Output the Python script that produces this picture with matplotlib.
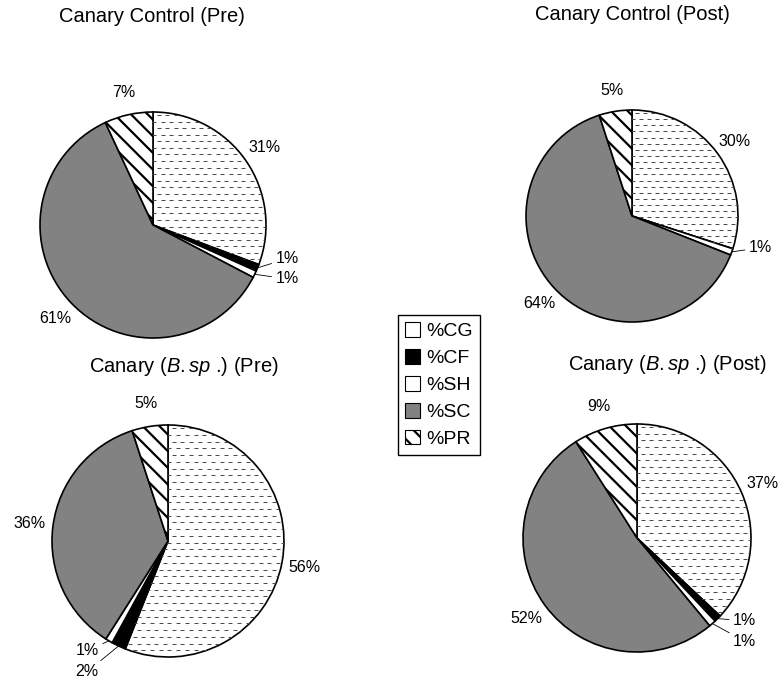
import numpy as np
import matplotlib
matplotlib.use('Agg')
import matplotlib.pyplot as plt
from matplotlib.patches import Patch

plt.rcParams['font.family'] = ['Liberation Sans', 'DejaVu Sans']
plt.rcParams['mathtext.fontset'] = 'custom'
plt.rcParams['mathtext.rm'] = 'Liberation Sans'
plt.rcParams['mathtext.it'] = 'Liberation Sans:italic'
plt.rcParams['hatch.linewidth'] = 1.6

# data: share of each component (%), clockwise from 12 o'clock
components = ['%CG', '%CF', '%SH', '%SC', '%PR']
ctrl_pre = [31, 1, 1, 61, 7]
ctrl_post = [30, 0, 1, 64, 5]
bsp_pre = [56, 2, 1, 36, 5]
bsp_post = [37, 1, 1, 52, 9]
titles = ['Canary Control (Pre)', 'Canary Control (Post)',
          r'Canary ($\mathit{B{.}sp}$ .) (Pre)', r'Canary ($\mathit{B{.}sp}$ .) (Post)']

# styles
fills = ['white', 'black', 'white', '#828282', 'white']
hatches = [None, None, None, None, '\\\\']

W, H = 778, 684
fig = plt.figure(figsize=(W / 100, H / 100), dpi=100)


def draw_pie(vals, title, cx, cy, r, tx, ty):
    ax = fig.add_axes([(cx - r) / W, 1 - (cy + r) / H, 2 * r / W, 2 * r / H])
    wedges, _ = ax.pie(vals, colors=fills, startangle=90, counterclock=False,
                       wedgeprops=dict(edgecolor='black', linewidth=1.2))
    for w, h in zip(wedges, hatches):
        if h:
            w.set_hatch(h)

    # dashed texture for the CG slice
    gx, gy = np.meshgrid(np.arange(-1, 1.05, 0.075), np.arange(-1, 1.05, 0.058))
    gx = gx + (np.arange(gy.shape[0])[:, None] % 2) * 0.0375
    dash, = ax.plot(gx.ravel(), gy.ravel(), ls='none', marker='_', ms=3.3,
                    mew=0.7, color='#4a4a4a', zorder=wedges[0].get_zorder() + 0.1)
    dash.set_clip_path(wedges[0])
    ax.set_xlim(-1, 1)
    ax.set_ylim(-1, 1)

    small = []
    for w, v in zip(wedges, vals):
        if v == 0:
            continue
        mid = np.deg2rad((w.theta1 + w.theta2) / 2)
        if v >= 3:
            ax.text(1.2 * np.cos(mid), 1.2 * np.sin(mid), f'{v}%', ha='center',
                    va='center', fontsize=11.5, clip_on=False)
        else:
            small.append((mid, v))

    if small:
        small.sort(key=lambda s: -np.sin(s[0]))
        m = np.mean([s[0] for s in small])
        # nudge the label group towards the horizontal
        m -= np.deg2rad(6) * np.sign(np.sin(m)) * np.sign(np.cos(m))
        bx, by = 1.25 * np.cos(m), 1.25 * np.sin(m)
        offs = [0.0] if len(small) == 1 else [0.09, -0.09]
        for (mid, v), o in zip(small, offs):
            ax.annotate(f'{v}%', xy=(np.cos(mid), np.sin(mid)), xytext=(bx, by + o),
                        ha='center', va='center',
                        fontsize=11.5, annotation_clip=False,
                        arrowprops=dict(arrowstyle='-', lw=0.6, color='black',
                                        shrinkA=1, shrinkB=0))

    fig.text(tx / W, 1 - ty / H, title, ha='center', va='center', fontsize=14.5)


draw_pie(ctrl_pre, titles[0], 153, 225, 113, 152, 17)
draw_pie(ctrl_post, titles[1], 632, 216, 106, 632, 15)
draw_pie(bsp_pre, titles[2], 168, 541, 116, 184, 367)
draw_pie(bsp_post, titles[3], 637, 538, 114, 667, 364)

handles = [Patch(facecolor=f, edgecolor='black', hatch=h, linewidth=0.8)
           for f, h in zip(fills, hatches)]
leg = fig.legend(handles, components, loc='upper left',
                 bbox_to_anchor=(398 / W, 1 - 315 / H), borderaxespad=0,
                 fancybox=False, edgecolor='black', framealpha=1, fontsize=14,
                 handlelength=0.8, handleheight=0.8, handletextpad=0.3,
                 labelspacing=0.45, borderpad=0.35)
leg.get_frame().set_linewidth(1.0)

fig.savefig('out.png', dpi=100)
